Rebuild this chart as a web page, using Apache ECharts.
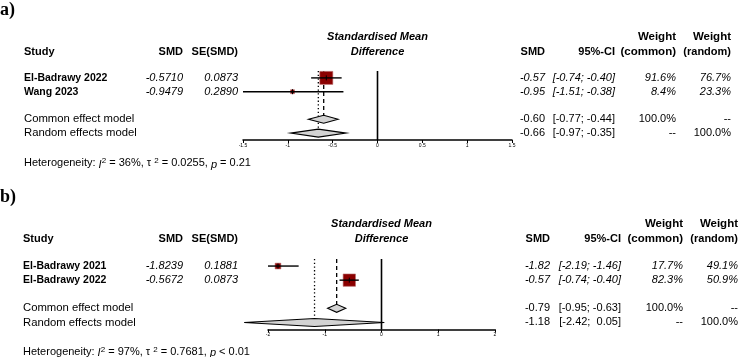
<!DOCTYPE html>
<html>
<head>
<meta charset="utf-8">
<script src="https://cdn.jsdelivr.net/npm/echarts@6/dist/echarts.min.js"></script>
<style>
html,body{margin:0;padding:0;background:#fff;}
#main{width:740px;height:357px;}
</style>
</head>
<body>
<div id="main"></div>
<script>
// ---- panel a) ----
var studiesA = ['El-Badrawy 2022', 'Wang 2023'];
var smdA = [-0.5710, -0.9479];
var seA = [0.0873, 0.2890];
var loA = [-0.74, -1.51];
var hiA = [-0.40, -0.38];
var wComA = [91.6, 8.4];
var wRanA = [76.7, 23.3];
var modelEstA = [-0.60, -0.66];
var modelLoA = [-0.77, -0.97];
var modelHiA = [-0.44, -0.35];
var hetA = ['36%', '0.0255', '= 0.21'];

// ---- panel b) ----
var studiesB = ['El-Badrawy 2021', 'El-Badrawy 2022'];
var smdB = [-1.8239, -0.5672];
var seB = [0.1881, 0.0873];
var loB = [-2.19, -0.74];
var hiB = [-1.46, -0.40];
var wComB = [17.7, 82.3];
var wRanB = [49.1, 50.9];
var modelEstB = [-0.79, -1.18];
var modelLoB = [-0.95, -2.42];
var modelHiB = [-0.63, 0.05];
var hetB = ['97%', '0.7681', '< 0.01'];

var models = ['Common effect model', 'Random effects model'];
var axisA = {min: -1.5, max: 1.5, interval: 0.5};
var axisB = {min: -2, max: 2, interval: 1};

var FONT = 'Liberation Sans, Arial, Helvetica, sans-serif';
var chart = echarts.init(document.getElementById('main'));

// rows: studies at 1,2 ; common 4 ; random 5
function buildData(smd, lo, hi, wCom, mEst, mLo, mHi) {
  var d = [];
  // zero line, dashed common line, dotted random line
  d.push([2, 0, 0.5, 0.5, 5.5, 0]);
  d.push([2, mEst[0], 0.5, 0.5, 4, 1]);
  d.push([2, mEst[1], 0.5, 0.5, 5, 2]);
  for (var i = 0; i < smd.length; i++) {
    d.push([0, smd[i], i + 1, lo[i], hi[i], 1.36 * Math.sqrt(wCom[i])]);
  }
  d.push([1, mEst[0], 4, mLo[0], mHi[0], 0]);
  d.push([1, mEst[1], 5, mLo[1], mHi[1], 0]);
  return d;
}

function makeRender(ax) {
  return function (params, api) {
    var kind = api.value(0);
    var x = api.value(1), row = api.value(2), lo = api.value(3), hi = api.value(4), extra = api.value(5);
    if (kind === 2) {
      var p0 = api.coord([x, lo]);
      var p1 = api.coord([x, hi]);
      var end = extra === 0 ? p1[1] : p1[1] - 4;
      return {
        type: 'line',
        shape: {x1: p0[0], y1: p0[1], x2: p1[0], y2: end},
        style: {stroke: '#000', lineWidth: extra === 0 ? 1.6 : 1.3,
          lineDash: extra === 1 ? [4, 3] : (extra === 2 ? [1.3, 2.4] : null)}
      };
    }
    var c = api.coord([x, row]);
    var y = c[1];
    if (kind === 0) {
      var x0 = api.coord([Math.max(lo, ax.min), row])[0];
      var x1 = api.coord([Math.min(hi, ax.max), row])[0];
      var s = extra;
      return {
        type: 'group',
        children: [
          {type: 'rect', shape: {x: c[0] - s / 2, y: y - s / 2, width: s, height: s},
            style: {fill: '#8b0000', stroke: '#b86a6a', lineWidth: 0.6}},
          {type: 'line', shape: {x1: x0, y1: y, x2: x1, y2: y},
            style: {stroke: '#000', lineWidth: 1.4}},
          {type: 'line', shape: {x1: c[0], y1: y - 2.5, x2: c[0], y2: y + 2.5},
            style: {stroke: '#000', lineWidth: 1}}
        ]
      };
    }
    var l = api.coord([lo, row])[0];
    var h = api.coord([hi, row])[0];
    return {
      type: 'polygon',
      shape: {points: [[l, y], [c[0], y - 4], [h, y], [c[0], y + 4]]},
      style: {fill: '#d3d3d3', stroke: '#000', lineWidth: 1.1}
    };
  };
}

function xAxisFor(ax, gi) {
  return {
    type: 'value', gridIndex: gi, min: ax.min, max: ax.max, interval: ax.interval,
    axisLine: {show: true, onZero: false, lineStyle: {color: '#000', width: 1.5}},
    axisTick: {show: true, length: 3, lineStyle: {color: '#000', width: 1}},
    axisLabel: {fontSize: 5, margin: 3, color: '#000', fontFamily: FONT},
    splitLine: {show: false}
  };
}

chart.setOption({
  animation: false,
  backgroundColor: '#fff',
  grid: [
    {left: 243, right: 228, top: 71, bottom: 217},
    {left: 268, right: 245, top: 259, bottom: 27.5}
  ],
  xAxis: [xAxisFor(axisA, 0), xAxisFor(axisB, 1)],
  yAxis: [
    {type: 'value', gridIndex: 0, min: 0.5, max: 5.5, inverse: true, show: false},
    {type: 'value', gridIndex: 1, min: 0.5, max: 5.5, inverse: true, show: false}
  ],
  series: [
    {type: 'custom', xAxisIndex: 0, yAxisIndex: 0, encode: {x: [1, 3, 4], y: 2},
      renderItem: makeRender(axisA), data: buildData(smdA, loA, hiA, wComA, modelEstA, modelLoA, modelHiA)},
    {type: 'custom', xAxisIndex: 1, yAxisIndex: 1, encode: {x: [1, 3, 4], y: 2},
      renderItem: makeRender(axisB), data: buildData(smdB, loB, hiB, wComB, modelEstB, modelLoB, modelHiB)}
  ]
});

// ---- text table ----
function fmt(v) { return (v >= 0 ? ' ' : '') + v.toFixed(2); }
function txt(x, y, s, align, weight, style, size) {
  return {type: 'text', x: x, y: y, silent: true,
    style: {text: s, fill: '#000', align: align || 'left', verticalAlign: 'middle',
      fontFamily: FONT, fontSize: size || 11, fontWeight: weight || 'normal', fontStyle: style || 'normal'}};
}

function panelText(gi, cols, studies, smd, se, lo, hi, wCom, wRan, mEst, mLo, mHi, het, tag, tagY) {
  var Y = function (r) { return chart.convertToPixel({gridIndex: gi}, [0, r])[1]; };
  var zx = chart.convertToPixel({gridIndex: gi}, [0, 1])[0];
  var g = [];
  g.push({type: 'text', x: 0, y: tagY, silent: true,
    style: {text: tag, fill: '#000', verticalAlign: 'middle', fontFamily: 'Liberation Serif, Times New Roman, serif',
      fontSize: 18, fontWeight: 'bold'}});
  var hr = cols.hdr;
  g.push(txt(cols.study, Y(hr), 'Study', 'left', 'bold'));
  g.push(txt(cols.smd, Y(hr), 'SMD', 'right', 'bold'));
  g.push(txt(cols.se, Y(hr), 'SE(SMD)', 'right', 'bold'));
  g.push(txt(zx, Y(hr - 1.05), 'Standardised Mean', 'center', 'bold', 'italic'));
  g.push(txt(zx, Y(hr), 'Difference', 'center', 'bold', 'italic'));
  g.push(txt(cols.est, Y(hr), 'SMD', 'right', 'bold'));
  g.push(txt(cols.ci, Y(hr), '95%-CI', 'right', 'bold'));
  g.push(txt(cols.wc, Y(hr - 1.05), 'Weight', 'right', 'bold', 'normal', 11.5));
  g.push(txt(cols.wc, Y(hr), '(common)', 'right', 'bold', 'normal', 11.5));
  g.push(txt(cols.wr, Y(hr - 1.05), 'Weight', 'right', 'bold', 'normal', 11.5));
  g.push(txt(cols.wr, Y(hr), '(random)', 'right', 'bold'));
  for (var i = 0; i < studies.length; i++) {
    var y = Y(i + 1);
    g.push(txt(cols.study, y, studies[i], 'left', 'bold', 'normal', 10.5));
    g.push(txt(cols.smd, y, smd[i].toFixed(4), 'right', 'normal', 'italic'));
    g.push(txt(cols.se, y, se[i].toFixed(4), 'right', 'normal', 'italic'));
    g.push(txt(cols.est, y, smd[i].toFixed(2), 'right', 'normal', 'italic'));
    g.push(txt(cols.ci, y, '[' + fmt(lo[i]) + '; ' + fmt(hi[i]) + ']', 'right', 'normal', 'italic'));
    g.push(txt(cols.wc, y, wCom[i].toFixed(1) + '%', 'right', 'normal', 'italic'));
    g.push(txt(cols.wr, y, wRan[i].toFixed(1) + '%', 'right', 'normal', 'italic'));
  }
  for (var m = 0; m < 2; m++) {
    var ym = Y(4 + m);
    g.push(txt(cols.study, ym, models[m], 'left', 'normal', 'normal', 11.3));
    g.push(txt(cols.est, ym, mEst[m].toFixed(2), 'right'));
    g.push(txt(cols.ci, ym, '[' + fmt(mLo[m]) + '; ' + fmt(mHi[m]) + ']', 'right'));
    g.push(txt(cols.wc, ym, m === 0 ? '100.0%' : '--', 'right'));
    g.push(txt(cols.wr, ym, m === 1 ? '100.0%' : '--', 'right'));
  }
  g.push({type: 'text', x: cols.study, y: Y(cols.het), silent: true,
    style: {
      text: 'Heterogeneity: {i|I}{s|2} = ' + het[0] + ', \u03c4 {s|2} = ' + het[1] + ', {i|p} ' + het[2],
      fill: '#000', verticalAlign: 'middle', fontFamily: FONT, fontSize: 11,
      rich: {
        i: {fontStyle: 'italic', fontFamily: FONT, fontSize: 11, verticalAlign: 'bottom'},
        s: {fontSize: 8, fontFamily: FONT, verticalAlign: 'top', padding: [0, 0, 5, 0]}
      }
    }});
  return g;
}

var colsA = {study: 24, smd: 183, se: 238, est: 545, ci: 615, wc: 676, wr: 731, hdr: -0.9, het: 7.2};
var colsB = {study: 23, smd: 183, se: 238, est: 550, ci: 621, wc: 683, wr: 738, hdr: -0.95, het: 7.1};

chart.setOption({
  graphic: panelText(0, colsA, studiesA, smdA, seA, loA, hiA, wComA, wRanA, modelEstA, modelLoA, modelHiA, hetA, 'a)', 10)
    .concat(panelText(1, colsB, studiesB, smdB, seB, loB, hiB, wComB, wRanB, modelEstB, modelLoB, modelHiB, hetB, 'b)', 197))
});
</script>
</body>
</html>
